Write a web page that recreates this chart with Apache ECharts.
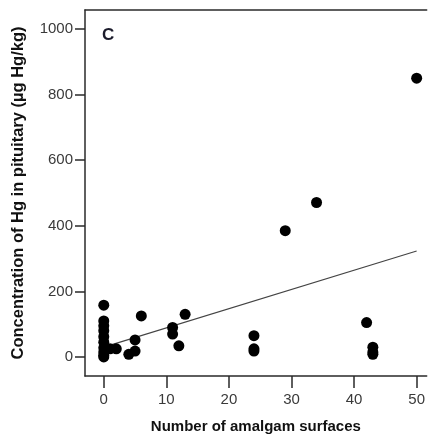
<!DOCTYPE html>
<html>
<head>
<meta charset="utf-8">
<script src="https://cdn.jsdelivr.net/npm/echarts@6/dist/echarts.min.js"></script>
<style>
html,body{margin:0;padding:0;background:#fff;}
#chart{width:428px;height:439px;}
</style>
</head>
<body>
<div id="chart"></div>
<script>
// Data
var surfaces = [0,0,0,0,0,0,0,0,0,0, 1,2, 4,5,5, 6, 11,11,12,13, 24,24,24, 29,34, 42,43,43,43, 50];
var hgConc   = [158,110,95,80,62,45,28,15,5,0, 25,25, 8,18,52, 125, 90,70,34,130, 65,25,18, 385,471, 105,30,15,8, 850];
var fitX = [0, 50];
var fitY = [30, 323];
var xTicks = [0,10,20,30,40,50];
var yTicks = [0,200,400,600,800,1000];
var panelLabel = 'C';
var xTitle = 'Number of amalgam surfaces';
var yTitle = 'Concentration of Hg in pituitary (\u00b5g Hg/kg)';

var points = surfaces.map(function(x,i){return [x, hgConc[i]];});
var fit = fitX.map(function(x,i){return [x, fitY[i]];});

var font = '"Liberation Sans", Arial, sans-serif';
var axisColor = '#2a2a2a';
var plain = function(v){ return String(v); };

var chart = echarts.init(document.getElementById('chart'), null, {renderer:'canvas'});
chart.setOption({
  animation:false,
  backgroundColor:'#fff',
  grid:{left:85, right:0, top:10, bottom:62},
  xAxis:[{
    type:'value', min:-3, max:51.6,
    axisLine:{show:true, onZero:false, lineStyle:{color:axisColor, width:1.5}},
    axisTick:{show:true, length:12, customValues:xTicks, lineStyle:{color:axisColor, width:1.5}},
    axisLabel:{customValues:xTicks, formatter:plain, margin:16, fontSize:15, color:'#3a3a3a', fontFamily:font},
    splitLine:{show:false},
    name:xTitle, nameLocation:'middle', nameGap:43,
    nameTextStyle:{fontSize:15, fontWeight:'bold', color:'#111', fontFamily:font}
  },{
    type:'value', min:-3, max:51.6, position:'top',
    axisLine:{show:true, onZero:false, lineStyle:{color:axisColor, width:1.5}},
    axisTick:{show:false}, axisLabel:{show:false}, splitLine:{show:false}
  }],
  yAxis:{
    type:'value', min:-58, max:1058,
    axisLine:{show:true, onZero:false, lineStyle:{color:axisColor, width:1.5}},
    axisTick:{show:true, length:10, customValues:yTicks, lineStyle:{color:axisColor, width:1.5}},
    axisLabel:{customValues:yTicks, formatter:plain, margin:12, fontSize:15, color:'#3a3a3a', fontFamily:font},
    splitLine:{show:false},
    name:yTitle, nameLocation:'middle', nameGap:58,
    nameTextStyle:{fontSize:16.5, fontWeight:'bold', color:'#111', fontFamily:font}
  },
  graphic:[{
    type:'text', left:102, top:27,
    style:{text:panelLabel, fill:'#1c1c2c', font:'bold 17px ' + font}
  }],
  series:[{
    type:'line', data:fit, symbol:'none', silent:true,
    lineStyle:{color:'#444', width:1.2}, z:1
  },{
    type:'scatter', data:points, symbol:'circle', symbolSize:11,
    itemStyle:{color:'#000', opacity:1}, z:2
  }]
});
</script>
</body>
</html>
